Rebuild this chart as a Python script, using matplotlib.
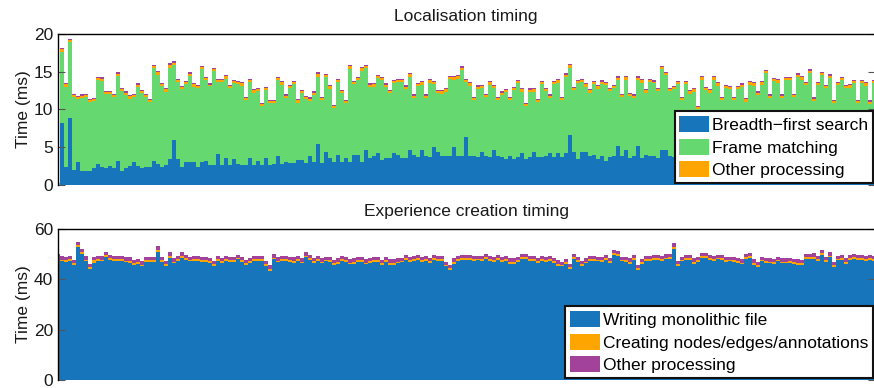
import numpy as np
import matplotlib.pyplot as plt
from matplotlib.patches import Patch

plt.rcParams['font.family'] = ['Liberation Sans', 'DejaVu Sans']

# Localisation timing: top of each stacked bar (ms)
loc_top = np.array([
    0.3, 18.1, 13.5, 19.4, 12.1, 11.8, 12.0, 12.1, 11.4, 11.5,
    14.3, 14.3, 12.5, 12.5, 12.1, 14.9, 12.9, 12.4, 11.9, 12.1,
    13.5, 12.6, 12.1, 11.4, 15.9, 15.1, 13.5, 12.8, 16.1, 16.4,
    14.1, 13.1, 13.8, 14.9, 13.5, 13.3, 15.8, 14.3, 13.5, 15.5,
    14.1, 14.1, 14.6, 13.3, 13.9, 13.8, 13.6, 11.7, 14.1, 12.7,
    12.9, 10.9, 13.0, 11.3, 11.3, 14.3, 13.8, 12.0, 13.3, 13.8,
    11.4, 12.6, 11.8, 11.6, 12.4, 14.9, 11.7, 14.7, 13.2, 10.6,
    14.1, 12.6, 11.3, 15.9, 13.8, 14.3, 15.6, 15.9, 13.5, 13.5,
    14.6, 14.3, 13.5, 12.6, 13.9, 14.1, 14.1, 13.2, 14.8, 12.0,
    13.5, 13.8, 12.0, 14.0, 13.8, 12.6, 12.6, 12.8, 14.4, 14.4,
    14.6, 15.7, 14.1, 13.6, 11.7, 13.2, 13.3, 12.1, 13.8, 13.3,
    11.7, 12.4, 12.7, 11.7, 13.0, 13.9, 12.8, 10.9, 12.8, 12.8,
    11.4, 13.8, 12.9, 12.0, 13.8, 14.0, 11.7, 14.8, 16.0, 13.0,
    13.9, 14.1, 13.5, 12.7, 13.8, 13.2, 13.9, 13.7, 12.9, 13.3,
    14.4, 12.1, 14.4, 12.2, 12.0, 14.4, 14.0, 12.7, 14.1, 13.9,
    12.9, 15.8, 15.0, 12.9, 13.1, 13.8, 11.7, 13.8, 12.6, 12.8,
    10.5, 14.4, 13.0, 12.7, 14.4, 13.6, 11.7, 13.3, 13.1, 11.7,
    13.1, 13.5, 11.5, 13.8, 13.6, 12.4, 13.8, 15.2, 12.0, 14.2,
    14.1, 12.0, 14.3, 14.3, 12.1, 14.8, 14.4, 13.7, 15.3, 11.6,
    13.7, 15.0, 13.2, 14.7, 11.3, 13.7, 14.3, 13.3, 13.4, 13.9,
    11.3, 13.9, 13.7, 11.2, 13.9,
])

bfs = np.array([
    0.05, 8.2, 2.4, 8.9, 2.0, 3.0, 1.9, 1.9, 1.9, 2.2,
    2.8, 2.4, 2.2, 2.5, 2.2, 3.2, 1.9, 2.2, 2.5, 3.0,
    2.5, 2.2, 2.4, 2.4, 3.2, 2.8, 2.4, 2.6, 3.4, 5.9,
    3.4, 2.4, 3.1, 3.1, 3.1, 2.4, 3.1, 3.2, 2.6, 2.7,
    4.1, 2.7, 3.6, 2.7, 3.4, 2.8, 2.7, 2.6, 3.6, 2.6,
    3.2, 2.6, 3.6, 2.6, 2.8, 3.9, 2.8, 3.1, 2.9, 2.9,
    3.3, 3.3, 2.9, 3.9, 3.1, 5.4, 2.9, 4.4, 3.6, 3.0,
    4.0, 3.0, 3.6, 3.1, 4.0, 4.0, 3.0, 4.7, 3.6, 3.9,
    4.2, 3.3, 3.6, 3.6, 4.2, 4.0, 3.6, 3.6, 4.7, 4.0,
    3.7, 4.6, 3.8, 3.7, 5.0, 4.4, 3.8, 3.8, 3.8, 5.0,
    3.9, 3.9, 6.4, 3.9, 3.8, 3.7, 4.4, 3.8, 3.7, 4.6,
    3.9, 3.7, 3.4, 3.9, 3.4, 3.7, 4.3, 3.4, 3.7, 4.4,
    3.7, 3.7, 3.8, 4.3, 3.7, 4.3, 3.7, 4.3, 6.6, 4.4,
    3.4, 4.4, 4.4, 3.8, 4.0, 3.5, 3.8, 3.2, 3.7, 3.8,
    5.2, 3.8, 4.6, 3.6, 3.8, 5.2, 3.6, 4.0, 3.8, 3.8,
    3.6, 4.7, 4.6, 3.8, 3.7, 3.9, 3.6, 4.1, 3.8, 3.5,
    4.4, 3.7, 3.9, 4.2, 3.6, 3.8, 4.0, 3.5, 3.9, 4.3,
    3.7, 3.6, 4.0, 3.8, 4.5, 3.7, 3.9, 3.6, 4.1, 3.8,
    3.7, 4.2, 3.9, 3.6, 4.0, 3.8, 4.4, 3.7, 3.9, 3.5,
    4.1, 3.8, 3.6, 4.0, 3.9, 3.7, 4.2, 3.8, 3.6, 4.0,
    3.9, 3.7, 4.3, 3.8, 3.9,
])

loc_other = np.array([
    0.0, 0.30, 0.35, 0.30, 0.30, 0.25, 0.30, 0.30, 0.30, 0.25,
    0.30, 0.30, 0.35, 0.30, 0.30, 0.30, 0.25, 0.30, 0.35, 0.30,
    0.30, 0.30, 0.25, 0.30, 0.30, 0.35, 0.30, 0.30, 0.40, 0.30,
    0.30, 0.25, 0.30, 0.30, 0.35, 0.30, 0.30, 0.30, 0.25, 0.30,
    0.30, 0.30, 0.35, 0.30, 0.30, 0.30, 0.30, 0.25, 0.30, 0.30,
    0.35, 0.30, 0.30, 0.30, 0.25, 0.30, 0.30, 0.35, 0.30, 0.30,
    0.30, 0.25, 0.30, 0.30, 0.30, 0.35, 0.30, 0.30, 0.30, 0.25,
    0.30, 0.30, 0.35, 0.30, 0.30, 0.30, 0.30, 0.25, 0.30, 0.35,
    0.30, 0.30, 0.30, 0.25, 0.30, 0.30, 0.35, 0.30, 0.30, 0.30,
    0.25, 0.30, 0.30, 0.35, 0.30, 0.30, 0.30, 0.30, 0.25, 0.30,
    0.30, 0.35, 0.30, 0.30, 0.30, 0.25, 0.30, 0.30, 0.35, 0.30,
    0.30, 0.30, 0.25, 0.30, 0.30, 0.30, 0.35, 0.30, 0.30, 0.30,
    0.25, 0.30, 0.30, 0.35, 0.30, 0.30, 0.30, 0.30, 0.40, 0.30,
    0.30, 0.30, 0.35, 0.30, 0.25, 0.30, 0.30, 0.30, 0.35, 0.30,
    0.30, 0.25, 0.30, 0.30, 0.30, 0.35, 0.30, 0.30, 0.30, 0.25,
    0.30, 0.35, 0.30, 0.30, 0.30, 0.30, 0.25, 0.30, 0.35, 0.30,
    0.30, 0.30, 0.25, 0.30, 0.30, 0.35, 0.30, 0.30, 0.30, 0.30,
    0.25, 0.30, 0.30, 0.35, 0.30, 0.30, 0.30, 0.25, 0.30, 0.30,
    0.35, 0.30, 0.30, 0.30, 0.30, 0.25, 0.30, 0.35, 0.30, 0.30,
    0.30, 0.30, 0.25, 0.30, 0.35, 0.30, 0.30, 0.30, 0.30, 0.25,
    0.30, 0.30, 0.35, 0.30, 0.30,
])

loc_misc = np.array([
    0.0, 0.15, 0.15, 0.20, 0.15, 0.15, 0.15, 0.20, 0.15, 0.15,
    0.15, 0.20, 0.15, 0.15, 0.15, 0.15, 0.20, 0.15, 0.15, 0.15,
    0.20, 0.15, 0.15, 0.15, 0.15, 0.20, 0.15, 0.15, 0.15, 0.20,
    0.15, 0.15, 0.15, 0.20, 0.15, 0.15, 0.15, 0.15, 0.20, 0.15,
    0.15, 0.15, 0.20, 0.15, 0.15, 0.15, 0.15, 0.20, 0.15, 0.15,
    0.15, 0.20, 0.15, 0.15, 0.15, 0.15, 0.20, 0.15, 0.15, 0.15,
    0.20, 0.15, 0.15, 0.15, 0.15, 0.20, 0.15, 0.15, 0.15, 0.20,
    0.15, 0.15, 0.15, 0.20, 0.15, 0.15, 0.15, 0.15, 0.20, 0.15,
    0.15, 0.15, 0.20, 0.15, 0.15, 0.15, 0.15, 0.20, 0.15, 0.15,
    0.15, 0.20, 0.15, 0.15, 0.15, 0.15, 0.20, 0.15, 0.15, 0.15,
    0.20, 0.15, 0.15, 0.15, 0.15, 0.20, 0.15, 0.15, 0.15, 0.20,
    0.15, 0.15, 0.15, 0.20, 0.15, 0.15, 0.15, 0.15, 0.20, 0.15,
    0.15, 0.15, 0.20, 0.15, 0.15, 0.15, 0.15, 0.20, 0.15, 0.15,
    0.15, 0.20, 0.15, 0.15, 0.15, 0.15, 0.20, 0.15, 0.15, 0.15,
    0.20, 0.15, 0.15, 0.15, 0.15, 0.20, 0.15, 0.15, 0.15, 0.20,
    0.15, 0.15, 0.15, 0.20, 0.15, 0.15, 0.15, 0.15, 0.20, 0.15,
    0.15, 0.15, 0.20, 0.15, 0.15, 0.15, 0.15, 0.20, 0.15, 0.15,
    0.15, 0.20, 0.15, 0.15, 0.15, 0.15, 0.20, 0.15, 0.15, 0.15,
    0.20, 0.15, 0.15, 0.15, 0.15, 0.20, 0.15, 0.15, 0.15, 0.20,
    0.15, 0.15, 0.15, 0.20, 0.15, 0.15, 0.15, 0.15, 0.20, 0.15,
    0.15, 0.15, 0.20, 0.15, 0.15,
])

# Experience creation timing: top of each stacked bar (ms)
exp_top = np.array([
    49.9, 49.1, 48.7, 49.3, 47.7, 54.8, 52.1, 49.1, 46.0, 48.9,
    49.3, 49.1, 50.7, 49.7, 49.3, 49.3, 49.3, 48.7, 48.7, 47.7,
    48.0, 47.1, 48.9, 48.9, 48.9, 53.1, 48.7, 47.3, 50.7, 48.4,
    49.3, 50.7, 49.6, 48.9, 49.3, 49.3, 48.9, 48.7, 48.4, 47.3,
    49.3, 48.4, 49.3, 48.9, 48.9, 49.7, 48.9, 47.6, 48.4, 49.3,
    49.3, 49.3, 47.1, 45.5, 50.0, 48.7, 49.3, 49.3, 48.9, 48.7,
    49.3, 48.3, 50.7, 49.7, 48.6, 49.4, 48.3, 48.9, 48.9, 47.7,
    48.3, 49.3, 48.9, 47.9, 48.3, 48.9, 49.0, 47.9, 48.3, 48.9,
    48.9, 47.7, 48.9, 47.9, 47.9, 48.3, 48.6, 49.7, 48.9, 49.3,
    49.7, 48.9, 49.3, 48.3, 49.7, 49.3, 49.3, 47.0, 45.7, 48.3,
    49.3, 49.7, 49.7, 49.7, 49.3, 49.3, 49.3, 50.1, 49.3, 48.9,
    49.7, 48.9, 49.3, 48.3, 48.3, 48.9, 49.9, 50.1, 49.3, 49.3,
    48.3, 49.3, 48.9, 49.3, 48.6, 47.5, 47.0, 47.9, 46.1, 50.1,
    48.9, 47.3, 48.3, 49.3, 49.3, 49.0, 49.0, 49.7, 48.3, 51.7,
    51.3, 49.0, 48.9, 48.3, 49.7, 45.7, 47.9, 49.3, 49.3, 49.7,
    49.7, 49.3, 49.9, 50.1, 54.3, 47.3, 49.0, 49.7, 49.7, 48.3,
    48.9, 50.6, 50.6, 49.7, 49.3, 49.7, 49.7, 49.0, 49.0, 49.0,
    48.6, 47.9, 50.1, 50.6, 47.9, 47.0, 49.0, 48.6, 48.3, 48.1,
    49.0, 48.3, 48.3, 48.3, 48.1, 47.9, 47.7, 50.1, 50.1, 50.3,
    49.3, 51.7, 49.0, 50.7, 47.0, 49.3, 49.7, 48.3, 49.7, 50.1,
    49.7, 49.7, 49.3, 49.7, 49.4,
])

exp_nodes = np.array([
    0.1, 0.7, 0.6, 0.7, 0.8, 0.7, 0.6, 0.7, 0.7, 0.9,
    0.7, 0.6, 0.7, 0.8, 0.7, 0.7, 0.6, 0.7, 0.7, 0.8,
    0.6, 0.7, 0.7, 0.6, 0.7, 1.0, 0.7, 0.7, 0.9, 0.6,
    0.7, 0.8, 0.7, 0.6, 0.7, 0.7, 0.8, 0.6, 0.7, 0.7,
    0.7, 0.6, 0.8, 0.7, 0.7, 0.6, 0.7, 0.7, 0.8, 0.6,
    0.7, 0.7, 0.7, 0.8, 0.6, 0.7, 0.7, 0.7, 0.6, 0.8,
    0.7, 0.7, 0.6, 0.7, 0.8, 0.7, 0.7, 0.6, 0.7, 0.7,
    0.8, 0.7, 0.6, 0.7, 0.7, 0.7, 0.8, 0.6, 0.7, 0.7,
    0.7, 0.6, 0.7, 0.8, 0.7, 0.7, 0.6, 0.7, 0.7, 0.8,
    0.7, 0.6, 0.7, 0.7, 0.7, 0.8, 0.6, 0.7, 0.7, 0.7,
    0.6, 0.8, 0.7, 0.7, 0.7, 0.6, 0.7, 0.8, 0.7, 0.7,
    0.7, 0.6, 0.7, 0.8, 0.7, 0.7, 0.6, 0.7, 0.7, 0.8,
    0.7, 0.6, 0.7, 0.7, 0.7, 0.8, 0.6, 0.7, 0.7, 0.7,
    0.6, 0.8, 0.7, 0.7, 0.7, 0.6, 0.7, 0.8, 0.7, 0.7,
    0.7, 0.6, 0.7, 0.8, 0.7, 0.7, 0.6, 0.7, 0.7, 0.8,
    0.7, 0.6, 0.7, 0.7, 0.9, 0.8, 0.6, 0.7, 0.7, 0.7,
    0.6, 0.8, 0.7, 0.7, 0.7, 0.6, 0.7, 0.8, 0.7, 0.7,
    0.7, 0.6, 0.7, 0.8, 0.7, 0.7, 0.6, 0.7, 0.7, 0.8,
    0.7, 0.6, 0.7, 0.7, 0.7, 0.8, 0.6, 0.7, 0.7, 0.7,
    0.6, 0.8, 0.7, 0.7, 0.7, 0.6, 0.7, 0.8, 0.7, 0.7,
    0.7, 0.6, 0.7, 0.8, 0.7,
])

exp_misc = np.array([
    0.1, 1.3, 1.2, 1.3, 1.4, 1.2, 1.3, 1.3, 1.2, 1.4,
    1.3, 1.3, 1.2, 1.4, 1.3, 1.2, 1.3, 1.3, 1.4, 1.2,
    1.3, 1.3, 1.2, 1.3, 1.4, 1.3, 1.2, 1.3, 1.3, 1.4,
    1.2, 1.3, 1.3, 1.2, 1.4, 1.3, 1.3, 1.2, 1.3, 1.4,
    1.3, 1.2, 1.3, 1.3, 1.4, 1.2, 1.3, 1.3, 1.2, 1.4,
    1.3, 1.3, 1.2, 1.3, 1.4, 1.3, 1.2, 1.3, 1.3, 1.4,
    1.2, 1.3, 1.3, 1.2, 1.4, 1.3, 1.3, 1.2, 1.3, 1.4,
    1.3, 1.2, 1.3, 1.3, 1.4, 1.2, 1.3, 1.3, 1.2, 1.4,
    1.3, 1.3, 1.2, 1.3, 1.4, 1.3, 1.2, 1.3, 1.3, 1.4,
    1.2, 1.3, 1.3, 1.2, 1.4, 1.3, 1.3, 1.2, 1.3, 1.4,
    1.3, 1.2, 1.3, 1.3, 1.4, 1.2, 1.3, 1.3, 1.2, 1.4,
    1.3, 1.3, 1.2, 1.3, 1.4, 1.3, 1.2, 1.3, 1.3, 1.4,
    1.2, 1.3, 1.3, 1.2, 1.4, 1.3, 1.3, 1.2, 1.3, 1.4,
    1.3, 1.2, 1.3, 1.3, 1.4, 1.2, 1.3, 1.3, 1.2, 1.4,
    1.3, 1.3, 1.2, 1.3, 1.4, 1.3, 1.2, 1.3, 1.3, 1.4,
    1.2, 1.3, 1.3, 1.2, 1.4, 1.3, 1.3, 1.2, 1.3, 1.4,
    1.3, 1.2, 1.3, 1.3, 1.4, 1.2, 1.3, 1.3, 1.2, 1.4,
    1.3, 1.3, 1.2, 1.3, 1.4, 1.3, 1.2, 1.3, 1.3, 1.4,
    1.2, 1.3, 1.3, 1.2, 1.4, 1.3, 1.3, 1.2, 1.3, 1.4,
    1.3, 1.2, 1.3, 1.3, 1.4, 1.2, 1.3, 1.3, 1.2, 1.4,
    1.3, 1.3, 1.2, 1.3, 1.4,
])

loc_labels = ['Breadth\u2212first search', 'Frame matching', 'Other processing']
exp_labels = ['Writing monolithic file', 'Creating nodes/edges/annotations', 'Other processing']

BLUE = '#1775bb'
GREEN = '#65d96f'
ORANGE = '#ffa500'
PURPLE = '#a2429a'

# layer heights that were not read directly
frame = loc_top - bfs - loc_other - loc_misc
writing = exp_top - exp_nodes - exp_misc
edges = np.arange(len(loc_top) + 1) - 0.5


def stack(ax, layers, colors):
    # contiguous bars of width 1, drawn as filled steps so no seams show
    base = np.zeros(len(loc_top))
    for h, c in zip(layers, colors):
        ax.stairs(base + h, edges, baseline=base, fill=True, color=c,
                  linewidth=0, zorder=1)
        base = base + h


def style(ax, ymax, step, title):
    ax.set_xlim(0, 204.25)
    ax.set_ylim(0, ymax)
    ax.set_yticks(np.arange(0, ymax + 1, step))
    ax.set_xticks([])
    ax.tick_params(axis='y', direction='in', length=5, width=0.8,
                   color='#555555', labelcolor='#1a1a1a', labelsize=12.5,
                   right=True, pad=3)
    ax.spines['bottom'].set_visible(False)
    for s in ('top', 'left', 'right'):
        ax.spines[s].set_color('black')
        ax.spines[s].set_linewidth(1.0)
        ax.spines[s].set_zorder(3)
    ax.set_ylabel('Time (ms)', fontsize=12.5, color='#1a1a1a', labelpad=2)
    ax.set_title(title, fontsize=12.5, color='#1a1a1a', pad=9)


def add_legend(ax, labels, colors):
    handles = [Patch(facecolor=c, edgecolor='none') for c in colors]
    leg = ax.legend(handles, labels, loc='lower right',
                    bbox_to_anchor=(0.998, 0.012), borderaxespad=0,
                    fontsize=12.5, frameon=True, fancybox=False,
                    edgecolor='#111111', framealpha=1, borderpad=0.28,
                    labelspacing=0.32, handlelength=1.72, handleheight=1.05,
                    handletextpad=0.15)
    leg.get_frame().set_linewidth(1.5)
    leg.set_zorder(5)


fig = plt.figure(figsize=(8.74, 3.88), dpi=100)
ax1 = fig.add_axes([0.0658, 0.5232, 0.9348, 0.3892])
ax2 = fig.add_axes([0.0658, 0.0206, 0.9348, 0.3892])

stack(ax1, [bfs, frame, loc_other, loc_misc], [BLUE, GREEN, ORANGE, PURPLE])
style(ax1, 20, 5, 'Localisation timing')
add_legend(ax1, loc_labels, [BLUE, GREEN, ORANGE])

stack(ax2, [writing, exp_nodes, exp_misc], [BLUE, ORANGE, PURPLE])
style(ax2, 60, 20, 'Experience creation timing')
add_legend(ax2, exp_labels, [BLUE, ORANGE, PURPLE])

fig.savefig('out.png', dpi=100)
